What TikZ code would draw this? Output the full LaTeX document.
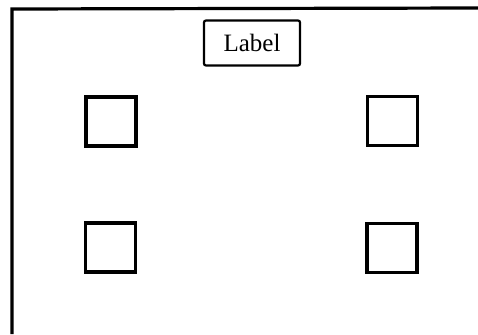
\documentclass[tikz,border=0pt]{standalone}
\usepackage{fontspec}
\setmainfont{Liberation Serif}
\begin{document}
\begin{tikzpicture}[x=1pt,y=-1pt,
  sq/.style={draw,line width=3.2pt,minimum width=50pt,minimum height=49pt,inner sep=0pt},
  lbl/.style={draw,line width=2.2pt,rounded corners=2pt,minimum width=96pt,minimum height=45pt,inner sep=0pt,font=\fontsize{25}{28}\selectfont},
  frame/.style={line width=3.2pt}]
\useasboundingbox (0,0) rectangle (478,334);
\coordinate (fbl) at (12,334);
\coordinate (ftl) at (12,9);
\coordinate (ftr) at (478,8);
\draw[frame] (fbl) -- (ftl) -- (ftr);
\node[lbl] (label) at (252,43) {Label};
\node[sq] (s1) at (111,121.5) {};
\node[sq] (s2) at (392.5,121) {};
\node[sq] (s3) at (110.5,247.5) {};
\node[sq] (s4) at (392,248) {};
\end{tikzpicture}
\end{document}
